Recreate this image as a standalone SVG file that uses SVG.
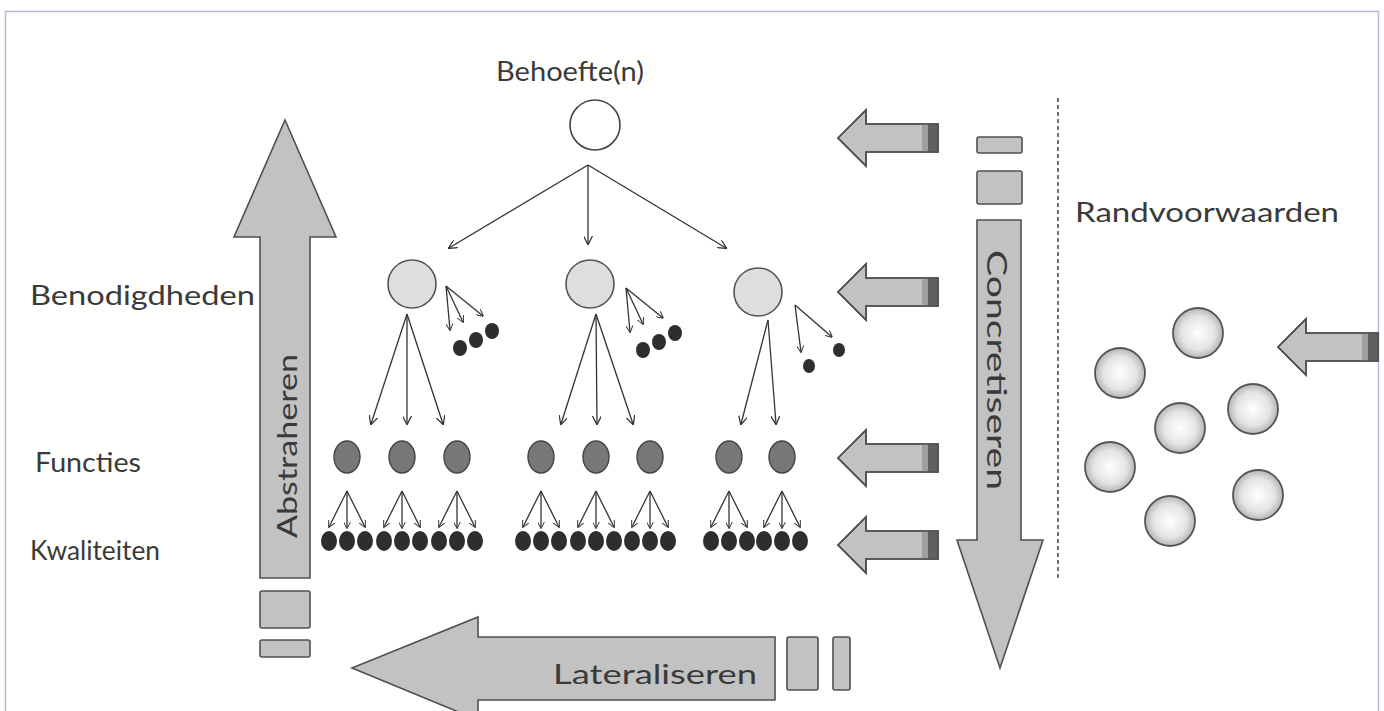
<svg xmlns="http://www.w3.org/2000/svg" width="1384" height="711" viewBox="0 0 1384 711">
<style>
.lbl{font-family:"Lato","Open Sans","Liberation Sans",sans-serif;font-size:27px;fill:#3a3a3a}
.big{fill:#c2c2c2;stroke:#505050;stroke-width:1.6}
.sq{fill:#c2c2c2;stroke:#505050;stroke-width:1.6}
.ln{stroke:#333;stroke-width:1.3;fill:none}
.l2{fill:#dedede;stroke:#555;stroke-width:1.6}
.fn{fill:#777;stroke:#444;stroke-width:1.4}
.dot{fill:#2e2e2e}
.rc{fill:url(#rg);stroke:#555;stroke-width:1.8}
</style>
<defs>
<marker id="ah" viewBox="0 0 10 10" refX="9" refY="5" markerWidth="9" markerHeight="9" markerUnits="userSpaceOnUse" orient="auto">
<path d="M0,0 L10,5 L0,10" fill="none" stroke="#333" stroke-width="1.4"/>
</marker>
<marker id="ahs" viewBox="0 0 10 10" refX="9" refY="5" markerWidth="7" markerHeight="7" markerUnits="userSpaceOnUse" orient="auto">
<path d="M0,0 L10,5 L0,10" fill="none" stroke="#333" stroke-width="1.4"/>
</marker>
<radialGradient id="rg" cx="0.5" cy="0.5" r="0.55">
<stop offset="0" stop-color="#ffffff"/>
<stop offset="0.6" stop-color="#e4e4e4"/>
<stop offset="1" stop-color="#a8a8a8"/>
</radialGradient>
<g id="la">
<path class="big" d="M0,0 L28,-28 L28,-14 L100,-14 L100,14 L28,14 L28,28 Z"/>
<rect x="84" y="-14" width="6" height="28" fill="#a0a0a0"/>
<rect x="90" y="-14" width="10" height="28" fill="#606060"/>
<path d="M0,0 L28,-28 L28,-14 L100,-14 L100,14 L28,14 L28,28 Z" fill="none" stroke="#505050" stroke-width="1.6"/>
</g>
<g id="kq">
<line class="ln" x1="0" y1="0" x2="-18" y2="36" marker-end="url(#ahs)"/>
<line class="ln" x1="0" y1="0" x2="0" y2="37" marker-end="url(#ahs)"/>
<line class="ln" x1="0" y1="0" x2="18" y2="36" marker-end="url(#ahs)"/>
<ellipse class="dot" cx="-18" cy="50" rx="8" ry="10"/>
<ellipse class="dot" cx="0" cy="50" rx="8" ry="10"/>
<ellipse class="dot" cx="18" cy="50" rx="8" ry="10"/>
</g>
</defs>
<rect x="5.5" y="11.5" width="1373" height="720" fill="#fffffd" stroke="#b9b9e2" stroke-width="1.5"/>

<g id="labels">
<text class="lbl" x="496" y="81" textLength="148" lengthAdjust="spacingAndGlyphs">Behoefte(n)</text>
<text class="lbl" x="30" y="305" textLength="225" lengthAdjust="spacingAndGlyphs">Benodigdheden</text>
<text class="lbl" x="35" y="472" textLength="106" lengthAdjust="spacingAndGlyphs">Functies</text>
<text class="lbl" x="30" y="560" textLength="130" lengthAdjust="spacingAndGlyphs">Kwaliteiten</text>
<text class="lbl" x="1075" y="222" textLength="264" lengthAdjust="spacingAndGlyphs">Randvoorwaarden</text>
</g>

<g id="abstraheren">
<path class="big" d="M285,120 L336,237 L310,237 L310,578 L260,578 L260,237 L234,237 Z"/>
<text class="lbl" transform="translate(297,538) rotate(-90)" font-size="31" textLength="184" lengthAdjust="spacingAndGlyphs">Abstraheren</text>
<rect class="sq" x="260" y="591" width="50" height="37" rx="2"/>
<rect class="sq" x="260" y="640" width="50" height="17" rx="2"/>
</g>

<g id="lateraliseren">
<path class="big" d="M352,668 L478,617 L478,637 L775,637 L775,700 L478,700 L478,720 Z"/>
<text class="lbl" x="553" y="684" font-size="31" textLength="204" lengthAdjust="spacingAndGlyphs">Lateraliseren</text>
<rect class="sq" x="787" y="637" width="31" height="53" rx="2"/>
<rect class="sq" x="833" y="637" width="17" height="53" rx="2"/>
</g>

<g id="concretiseren">
<rect class="sq" x="977" y="137" width="45" height="16" rx="2"/>
<rect class="sq" x="977" y="171" width="45" height="33" rx="2"/>
<path class="big" d="M977,220 L1021,220 L1021,540 L1043,540 L1000,668 L957,540 L977,540 Z"/>
<text class="lbl" transform="translate(987,250) rotate(90)" font-size="31" textLength="240" lengthAdjust="spacingAndGlyphs">Concretiseren</text>
</g>

<g id="divider">
<line x1="1058" y1="98" x2="1058" y2="580" stroke="#444" stroke-width="1.5" stroke-dasharray="4,3"/>
</g>

<g id="input-arrows">
<use href="#la" x="838" y="138"/>
<use href="#la" x="838" y="292"/>
<use href="#la" x="838" y="458"/>
<use href="#la" x="838" y="545"/>
<use href="#la" x="1278" y="347"/>
</g>

<g id="randvoorwaarden-circles">
<circle class="rc" cx="1198" cy="333" r="25"/>
<circle class="rc" cx="1120" cy="373" r="25"/>
<circle class="rc" cx="1253" cy="409" r="25"/>
<circle class="rc" cx="1180" cy="428" r="25"/>
<circle class="rc" cx="1110" cy="467" r="25"/>
<circle class="rc" cx="1258" cy="495" r="25"/>
<circle class="rc" cx="1170" cy="521" r="25"/>
</g>

<g id="connectors">
<line class="ln" x1="588" y1="165" x2="449" y2="248" marker-end="url(#ah)"/>
<line class="ln" x1="588" y1="165" x2="588" y2="244" marker-end="url(#ah)"/>
<line class="ln" x1="588" y1="165" x2="726" y2="248" marker-end="url(#ah)"/>

<line class="ln" x1="407" y1="314" x2="371" y2="424" marker-end="url(#ah)"/>
<line class="ln" x1="407" y1="314" x2="407" y2="424" marker-end="url(#ah)"/>
<line class="ln" x1="407" y1="314" x2="443" y2="424" marker-end="url(#ah)"/>
<line class="ln" x1="596" y1="314" x2="561" y2="424" marker-end="url(#ah)"/>
<line class="ln" x1="596" y1="314" x2="597" y2="424" marker-end="url(#ah)"/>
<line class="ln" x1="596" y1="314" x2="633" y2="424" marker-end="url(#ah)"/>
<line class="ln" x1="768" y1="320" x2="741" y2="424" marker-end="url(#ah)"/>
<line class="ln" x1="768" y1="320" x2="776" y2="424" marker-end="url(#ah)"/>

<line class="ln" x1="446" y1="286" x2="450" y2="330" marker-end="url(#ahs)"/>
<line class="ln" x1="446" y1="286" x2="463" y2="322" marker-end="url(#ahs)"/>
<line class="ln" x1="446" y1="286" x2="483" y2="316" marker-end="url(#ahs)"/>
<line class="ln" x1="626" y1="288" x2="630" y2="332" marker-end="url(#ahs)"/>
<line class="ln" x1="626" y1="288" x2="643" y2="324" marker-end="url(#ahs)"/>
<line class="ln" x1="626" y1="288" x2="663" y2="318" marker-end="url(#ahs)"/>
<line class="ln" x1="795" y1="305" x2="801" y2="352" marker-end="url(#ahs)"/>
<line class="ln" x1="795" y1="305" x2="832" y2="337" marker-end="url(#ahs)"/>
</g>

<g id="behoefte">
<circle cx="595" cy="125" r="25" fill="#fff" stroke="#444" stroke-width="1.6"/>
</g>

<g id="benodigdheden">
<circle class="l2" cx="412" cy="284" r="24"/>
<circle class="l2" cx="590" cy="284" r="24"/>
<circle class="l2" cx="758" cy="292" r="24"/>
<ellipse class="dot" cx="460" cy="348" rx="7" ry="8"/>
<ellipse class="dot" cx="476" cy="340" rx="7" ry="8"/>
<ellipse class="dot" cx="492" cy="331" rx="7" ry="8"/>
<ellipse class="dot" cx="643" cy="350" rx="7" ry="8"/>
<ellipse class="dot" cx="659" cy="342" rx="7" ry="8"/>
<ellipse class="dot" cx="675" cy="333" rx="7" ry="8"/>
<ellipse class="dot" cx="809" cy="366" rx="6" ry="7"/>
<ellipse class="dot" cx="839" cy="350" rx="6" ry="7"/>
</g>

<g id="functies">
<ellipse class="fn" cx="347" cy="457" rx="13" ry="16"/>
<ellipse class="fn" cx="402" cy="457" rx="13" ry="16"/>
<ellipse class="fn" cx="457" cy="457" rx="13" ry="16"/>
<ellipse class="fn" cx="541" cy="457" rx="13" ry="16"/>
<ellipse class="fn" cx="596" cy="457" rx="13" ry="16"/>
<ellipse class="fn" cx="650" cy="457" rx="13" ry="16"/>
<ellipse class="fn" cx="729" cy="457" rx="13" ry="16"/>
<ellipse class="fn" cx="782" cy="457" rx="13" ry="16"/>
</g>

<g id="kwaliteiten">
<use href="#kq" x="347" y="491"/>
<use href="#kq" x="402" y="491"/>
<use href="#kq" x="457" y="491"/>
<use href="#kq" x="541" y="491"/>
<use href="#kq" x="596" y="491"/>
<use href="#kq" x="650" y="491"/>
<use href="#kq" x="729" y="491"/>
<use href="#kq" x="782" y="491"/>
</g>
</svg>
